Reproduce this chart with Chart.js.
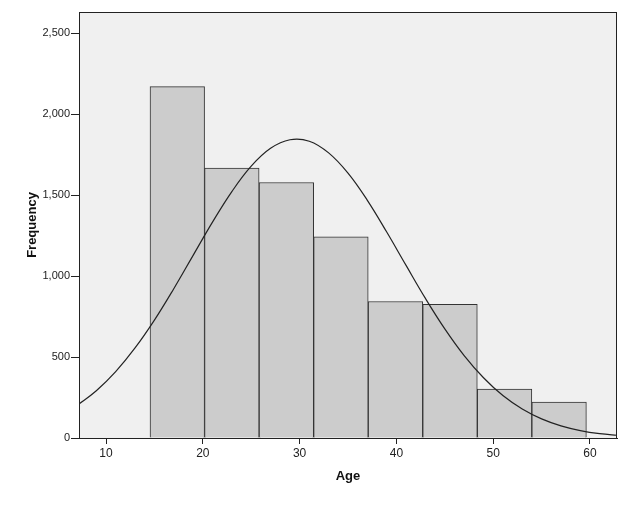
<!DOCTYPE html>
<html>
<head>
<meta charset="utf-8">
<script src="https://cdn.jsdelivr.net/npm/chart.js@4"></script>
<style>
    body { margin: 0; background: #fff; }
    #wrap { width: 640px; height: 505px; }
</style>
</head>
<body>
<div id="wrap"><canvas id="ageChart" width="640" height="505"></canvas></div>
<script>
// 히스토그램 데이터
const binEdges = [14.55, 20.18, 25.82, 31.45, 37.09, 42.72, 48.36, 53.99, 59.63];
const counts = [2170, 1667, 1578, 1243, 843, 825, 302, 222];

// 정규분포 곡선 (그림에서 읽은 점)
const curveAges = [7, 9, 11, 13, 15, 17, 19, 21, 23, 25, 27, 29, 31, 33, 35, 37, 39, 41, 43, 45, 47, 49, 51, 53, 55, 57, 59, 61, 63];
const curveFreq = [201, 292, 410, 556, 728, 922, 1128, 1333, 1522, 1679, 1789, 1842, 1833, 1761, 1636, 1468, 1272, 1066, 862, 674, 509, 372, 262, 179, 118, 75, 46, 27, 16];

const xTicks = [10, 20, 30, 40, 50, 60];
const yTicks = [0, 500, 1000, 1500, 2000, 2500];

const barData = counts.map((c, i) => ({ x: (binEdges[i] + binEdges[i + 1]) / 2, y: c }));
const lineData = curveAges.map((a, i) => ({ x: a, y: curveFreq[i] }));

// 플롯 배경과 테두리
const frame = {
    id: 'frame',
    beforeDraw(chart) {
        const ctx = chart.ctx;
        const a = chart.chartArea;
        ctx.save();
        ctx.fillStyle = '#ffffff';
        ctx.fillRect(0, 0, chart.width, chart.height);
        ctx.fillStyle = '#f0f0f0';
        ctx.fillRect(a.left, a.top, a.right - a.left, a.bottom - a.top);
        ctx.restore();
    },
    afterDraw(chart) {
        const ctx = chart.ctx;
        const a = chart.chartArea;
        ctx.save();
        ctx.strokeStyle = '#222';
        ctx.lineWidth = 1;
        ctx.strokeRect(a.left + 0.5, a.top + 0.5, a.right - a.left - 1, a.bottom - a.top);
        ctx.restore();
    }
};

new Chart(document.getElementById('ageChart'), {
    type: 'bar',
    data: {
        datasets: [
            {
                type: 'line',
                data: lineData,
                borderColor: '#222',
                borderWidth: 1.2,
                pointRadius: 0,
                tension: 0.4,
                fill: false,
                order: 0
            },
            {
                data: barData,
                backgroundColor: '#cccccc',
                borderColor: '#333',
                borderWidth: 1,
                barPercentage: 1,
                categoryPercentage: 1,
                grouped: false,
                order: 1
            }
        ]
    },
    options: {
        responsive: false,
        animation: false,
        layout: { padding: { top: 12, right: 23, left: 0, bottom: 0 } },
        plugins: { legend: { display: false }, tooltip: { enabled: false } },
        scales: {
            x: {
                type: 'linear',
                min: 7.21,
                max: 62.79,
                offset: false,
                afterBuildTicks: s => { s.ticks = xTicks.map(v => ({ value: v })); },
                afterFit: s => { s.height = 67; },
                grid: { drawOnChartArea: false, tickLength: 6, tickColor: '#222', offset: false },
                border: { color: '#222' },
                ticks: {
                    color: '#222',
                    padding: 2,
                    maxRotation: 0,
                    font: { family: 'Liberation Sans', size: 12 }
                },
                title: {
                    display: true,
                    text: 'Age',
                    color: '#111',
                    padding: { top: 0, bottom: 21 },
                    font: { family: 'Liberation Sans', size: 13, weight: 'bold' }
                }
            },
            y: {
                min: 0,
                max: 2631,
                afterBuildTicks: s => { s.ticks = yTicks.map(v => ({ value: v })); },
                afterFit: s => { s.width = 79; },
                grid: { drawOnChartArea: false, tickLength: 8, tickColor: '#222' },
                border: { color: '#222' },
                ticks: {
                    color: '#222',
                    padding: 1,
                    font: { family: 'Liberation Sans', size: 11 },
                    callback: v => v.toLocaleString('en-US')
                },
                title: {
                    display: true,
                    text: 'Frequency',
                    color: '#111',
                    padding: { top: 25, bottom: 0 },
                    font: { family: 'Liberation Sans', size: 13, weight: 'bold' }
                }
            }
        }
    },
    plugins: [frame]
});
</script>
</body>
</html>
